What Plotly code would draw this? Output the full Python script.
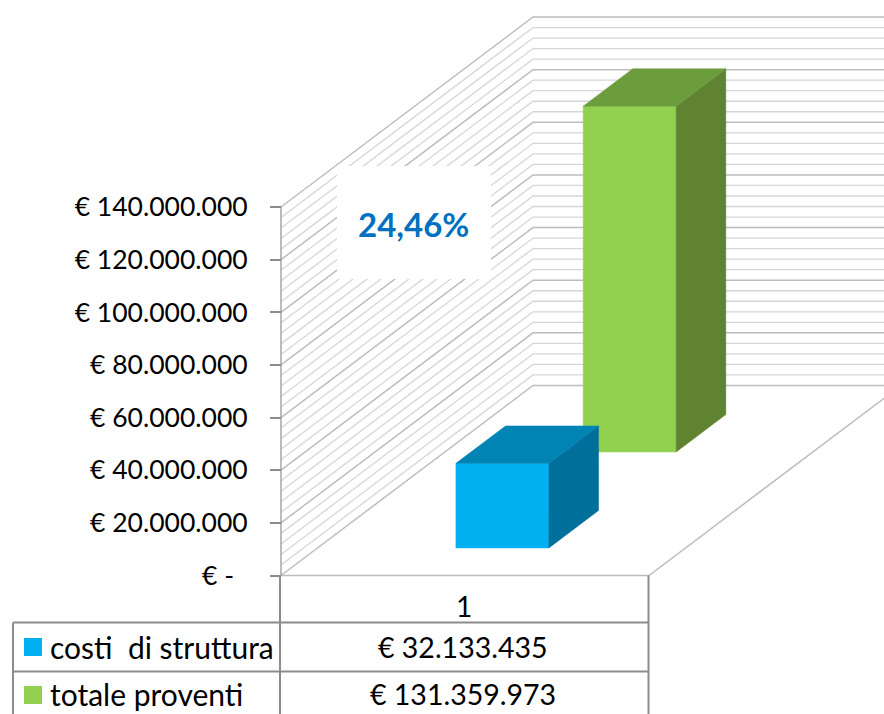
import numpy as np
import plotly.graph_objects as go

series_names = ["costi  di struttura", "totale proventi"]
series_values = [32133435, 131359973]
category_labels = ["1"]
percent_label = "24,46%"
tick_values = [0, 20000000, 40000000, 60000000, 80000000, 100000000, 120000000, 140000000]
tick_labels = ["€ -\u00a0\u00a0", "€ 20.000.000", "€ 40.000.000", "€ 60.000.000", "€ 80.000.000",
               "€ 100.000.000", "€ 120.000.000", "€ 140.000.000"]
minor_step = 4000000

front_colors = ["#00b0f0", "#92d050"]
top_colors = ["#0084b4", "#6d9c3c"]
side_colors = ["#006f9b", "#5f8330"]

W, H = 884, 714
axis_px, right_px = 281, 649
zero_py, top_py = 575.5, 207
per_px = 140000000 / (zero_py - top_py)
x_unit = right_px - axis_px

# oblique depth: z=1 is the back of the floor
depth_dx = 252 / x_unit
depth_dy = 190 * per_px
bar_x = 0.376
bar_w = 0.2527
bar_d = 0.197
bar_z = [0.145, 0.65]


def proj(x, v, z):
    return x + z * depth_dx, v + z * depth_dy


def px_x(p):
    return (p - axis_px) / x_unit


def px_y(p):
    return (zero_py - p) * per_px


def poly(pts):
    xs, ys = zip(*[proj(*p) for p in pts])
    return list(xs) + [xs[0]], list(ys) + [ys[0]]


def face(fig, pts, color):
    xs, ys = poly(pts)
    fig.add_trace(go.Scatter(x=xs, y=ys, mode="lines", fill="toself", fillcolor=color,
                             line=dict(color=color, width=0.5), hoverinfo="skip", showlegend=False))


def grid_lines(vals):
    xs, ys = [], []
    right_end = px_x(W + 5)
    for v in vals:
        for p in [proj(0, v, 0), proj(0, v, 1), (right_end, proj(0, v, 1)[1])]:
            xs.append(p[0])
            ys.append(p[1])
        xs.append(None)
        ys.append(None)
    return xs, ys


fig = go.Figure()

all_vals = np.arange(0, tick_values[-1] + minor_step, minor_step)
minor_vals = [v for v in all_vals if v not in tick_values]

xs, ys = grid_lines(minor_vals)
fig.add_trace(go.Scatter(x=xs, y=ys, mode="lines", line=dict(color="#d6d6d6", width=1.3),
                         hoverinfo="skip", showlegend=False))
xs, ys = grid_lines(tick_values)
fig.add_trace(go.Scatter(x=xs, y=ys, mode="lines", line=dict(color="#bdbdbd", width=1.5),
                         hoverinfo="skip", showlegend=False))

# floor edges and left edge of the wall
far = proj(1, 0, 1.2)
fig.add_trace(go.Scatter(x=[0, 1, far[0]], y=[0, 0, far[1]], mode="lines",
                         line=dict(color="#bdbdbd", width=1.5), hoverinfo="skip", showlegend=False))
fig.add_trace(go.Scatter(x=[0, 0], y=[0, tick_values[-1]], mode="lines",
                         line=dict(color="#a6a6a6", width=1.5), hoverinfo="skip", showlegend=False))

# back bar first so the front one overlaps it
for i in [1, 0]:
    x0, x1 = bar_x, bar_x + bar_w
    z0, z1 = bar_z[i], bar_z[i] + bar_d
    v = series_values[i]
    face(fig, [(x0, 0, z0), (x1, 0, z0), (x1, v, z0), (x0, v, z0)], front_colors[i])
    face(fig, [(x1, 0, z0), (x1, 0, z1), (x1, v, z1), (x1, v, z0)], side_colors[i])
    face(fig, [(x0, v, z0), (x1, v, z0), (x1, v, z1), (x0, v, z1)], top_colors[i])

# data table frame
table_color = "#8c8c8c"
rows_py = [622.5, 671.5]
left_py = 13
col_a, col_b = px_x(280), px_x(648.5)
tx = [px_x(left_py), col_b, None, px_x(left_py), col_b, None, col_a, col_a, None, col_b, col_b, None,
      px_x(left_py), px_x(left_py)]
ty = [px_y(rows_py[0]), px_y(rows_py[0]), None, px_y(rows_py[1]), px_y(rows_py[1]), None,
      0, px_y(H + 5), None, 0, px_y(H + 5), None, px_y(rows_py[0]), px_y(H + 5)]
fig.add_trace(go.Scatter(x=tx, y=ty, mode="lines", line=dict(color=table_color, width=2),
                         hoverinfo="skip", showlegend=False))

# legend keys in the table
fig.add_trace(go.Scatter(x=[px_x(33), px_x(33)], y=[px_y(647), px_y(695)], mode="markers",
                         marker=dict(symbol="square", size=18, color=front_colors),
                         hoverinfo="skip", showlegend=False))

font = "Lato, sans-serif"
annotations = [
    dict(x=px_x(464), y=px_y(606), text=category_labels[0], size=28),
    dict(x=px_x(463), y=px_y(647), text="€ " + f"{series_values[0]:,}".replace(",", "."), size=28.5),
    dict(x=px_x(463), y=px_y(694), text="€ " + f"{series_values[1]:,}".replace(",", "."), size=28.5),
    dict(x=px_x(48), y=px_y(647), text=series_names[0].replace("  ", "\u00a0 "), xanchor="left", size=30),
    dict(x=px_x(48), y=px_y(694), text=series_names[1], xanchor="left", size=30),
]
for a in annotations:
    a.update(xref="x", yref="y", showarrow=False, font=dict(family=font, size=a.pop("size"), color="#000000"))
annotations.append(dict(x=px_x(413), y=px_y(224), xref="x", yref="y", text="<b>" + percent_label + "</b>",
                        showarrow=False, font=dict(family=font, size=33, color="#0070c0")))

fig.update_layout(
    width=W, height=H,
    margin=dict(l=0, r=0, t=0, b=0),
    paper_bgcolor="white", plot_bgcolor="white",
    showlegend=False,
    annotations=annotations,
    shapes=[dict(type="rect", xref="x", yref="y", x0=px_x(337), x1=px_x(491), y0=px_y(279), y1=px_y(166),
                 fillcolor="white", line=dict(width=0), layer="above")],
    xaxis=dict(range=[px_x(0), px_x(W)], domain=[0, 1], visible=False),
    yaxis=dict(range=[px_y(H), px_y(0)], anchor="free", position=axis_px / W,
               tickmode="array", tickvals=tick_values, ticktext=tick_labels,
               ticks="outside", ticklen=11, tickwidth=2, tickcolor="#8c8c8c",
               ticklabelstandoff=17,
               showgrid=False, zeroline=False, showline=False,
               tickfont=dict(family=font, size=26.5, color="#000000")),
)

# page margin off so the figure fills the window
fig.write_html("out.html", config={"displayModeBar": False},
               post_script="document.body.style.margin='0';document.body.style.overflow='hidden';")
